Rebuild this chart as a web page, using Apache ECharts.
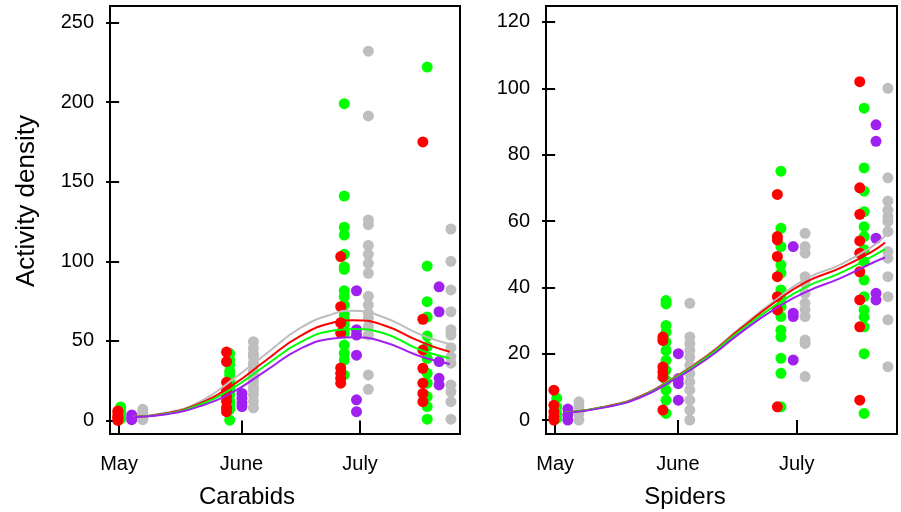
<!DOCTYPE html>
<html>
<head>
<meta charset="utf-8">
<script src="https://cdn.jsdelivr.net/npm/echarts@6/dist/echarts.min.js"></script>
<style>
html,body{margin:0;padding:0;background:#fff;}
#c{width:901px;height:512px;}
</style>
</head>
<body>
<div id="c"></div>
<script>
// ---- tick labels ----
const monthTickDays = [0, 31, 61];
const monthLabels = ['May', 'June', 'July'];
const carabidsYTicks = [0, 50, 100, 150, 200, 250];
const spidersYTicks = [0, 20, 40, 60, 80, 100, 120];
const panelTitles = ['Carabids', 'Spiders'];
const yTitle = 'Activity density';

// ---- sampling day (days since 1 May) per group, per visit ----
const redDays    = [-0.3, 27.2, 56.1, 76.9];
const greenDays  = [0.4, 28.0, 57.0, 78.0];
const purpleDays = [3.2, 31.1, 60.1, 81.0];
const grayDays   = [6.0, 34.0, 63.1, 84.0];

// ---- Carabids observations (per visit) ----
const carabidsRed = [
  [6, 5, 3, 2, 1, 0],
  [43, 37, 24, 19, 15, 12, 8, 5.5],
  [103, 71.5, 61.4, 55, 33, 29.6, 26.5, 23.4],
  [175, 63.6, 44.3, 32.8, 23.4, 17, 11.8]
];
const carabidsGreen = [
  [8.5, 6, 4, 1],
  [42, 38, 35, 31, 28.6, 24, 22, 19, 16, 12, 9.8, 7, 0.3],
  [199, 141, 121.4, 116.5, 104.4, 96.6, 95, 81.5, 77.8, 72.5, 66.3, 63, 60, 55, 47.4, 42.2, 38, 28.6],
  [222, 97, 74.6, 65, 53, 46.4, 39, 29.6, 23.4, 15, 8.7, 0.8]
];
const carabidsPurple = [
  [3.5, 2, 0.5],
  [17, 14, 11, 8.7],
  [81.5, 57, 53.7, 41, 13, 5.5],
  [84, 68.3, 37, 26.5, 22.3]
];
const carabidsGray = [
  [7, 5, 3, 2, 0.5],
  [49.5, 45.4, 42, 40, 36, 35, 31, 28, 26.5, 24, 21, 19, 16, 12, 8],
  [232, 191.3, 126, 123, 110, 104.4, 98.7, 92.5, 78, 72.5, 67.3, 64.2, 59, 53.7, 28.6, 19.6],
  [120.3, 100, 82, 68.3, 57, 53.7, 45.7, 40, 36, 22.3, 18, 11.8, 0.8]
];

// ---- Spiders observations (per visit) ----
const spidersRed = [
  [9, 4.5, 2.5, 1, 0],
  [25, 24, 16, 14.5, 13, 3],
  [68, 55.3, 54.3, 49.3, 43.2, 37.2, 33.2, 4],
  [102, 70, 62, 54, 50.3, 44.7, 36.2, 28.1, 6]
];
const spidersGreen = [
  [6.6, 4, 2, 0.5],
  [36, 35, 28.5, 26.5, 23.5, 21, 18, 15, 12, 9, 6, 2],
  [75, 57.8, 52.3, 46.8, 44.3, 39.2, 36.7, 34.2, 31.2, 27.1, 25.1, 18.6, 14.1, 4],
  [94, 76, 69, 62.8, 58.3, 55.3, 51.3, 47.8, 42.2, 37.2, 33.2, 31, 28.1, 20, 2]
];
const spidersPurple = [
  [3.3, 1.5, 0],
  [20, 12.5, 11, 6],
  [52.3, 32.2, 31.2, 18.1],
  [89, 84, 54.8, 38.2, 36.2]
];
const spidersGray = [
  [5.5, 4, 2, 0],
  [35.2, 25, 23, 21, 19, 16.5, 14, 11.5, 9, 6, 3, 0],
  [56.3, 52.3, 50.3, 43.2, 41.2, 38.2, 35.2, 33.2, 31.2, 24.1, 23.1, 13.1],
  [100, 73, 66, 63.3, 61.3, 59.8, 56.8, 50.8, 48.8, 43.2, 37.2, 30.2, 16.1]
];

// ---- fitted curves ----
const carabidsCurveDays = [3.6, 12.1, 20.5, 28.9, 37.3, 45.8, 54.2, 59.2, 66.8, 75.3, 79.5, 83.7];
const carabidsCurveGray   = [2.4, 5.0, 11.8, 26, 42, 58, 67, 69, 65, 55, 51, 48];
const carabidsCurveRed    = [2.3, 4.5, 10.8, 22.5, 38, 53, 61.5, 63, 60, 50.6, 46.4, 43.2];
const carabidsCurveGreen  = [2.2, 4.2, 10.0, 20.5, 35, 49, 56.5, 57.5, 55, 45.3, 41.8, 39.1];
const carabidsCurvePurple = [2.1, 3.9, 9.0, 18, 31.5, 45, 51.5, 52.3, 49.5, 41.1, 38, 35.5];

const spidersCurveDays = [2.5, 13, 21.5, 29.9, 38.3, 46.7, 55.1, 63.5, 71.9, 80.3, 83.3];
const spidersCurveGray   = [2.2, 4.2, 7.2, 12.8, 19.5, 27.8, 35.7, 42.7, 46.8, 52.5, 55.5];
const spidersCurveRed    = [2.2, 4.1, 7.1, 12.6, 19.2, 27.4, 35.2, 41.7, 45.8, 51, 53.5];
const spidersCurveGreen  = [2.2, 4.0, 7.0, 12.4, 18.9, 26.9, 34.2, 40.2, 44.3, 49.5, 51.5];
const spidersCurvePurple = [2.1, 3.9, 6.8, 12.1, 18.4, 26.2, 33.2, 38.7, 42.7, 47.5, 49];

// ---- build ----
const COLORS = {red: '#FF0000', green: '#00FF00', purple: '#A020F0', gray: '#BEBEBE'};
const FONT = '"Liberation Sans", Arial, Helvetica, sans-serif';

function pts(days, groups) {
  const out = [];
  groups.forEach((vals, i) => vals.forEach(v => out.push([days[i], v])));
  return out;
}
function zip(xs, ys) { return xs.map((x, i) => [x, ys[i]]); }

const panels = [
  {obs: {gray: carabidsGray, purple: carabidsPurple, green: carabidsGreen, red: carabidsRed},
   curveDays: carabidsCurveDays,
   curves: {gray: carabidsCurveGray, red: carabidsCurveRed, green: carabidsCurveGreen, purple: carabidsCurvePurple}},
  {obs: {gray: spidersGray, purple: spidersPurple, green: spidersGreen, red: spidersRed},
   curveDays: spidersCurveDays,
   curves: {gray: spidersCurveGray, red: spidersCurveRed, green: spidersCurveGreen, purple: spidersCurvePurple}}
];
const dayMap = {red: redDays, green: greenDays, purple: purpleDays, gray: grayDays};

const series = [];
panels.forEach((p, pi) => {
  ['gray', 'purple', 'green', 'red'].forEach((g, k) => {
    series.push({
      type: 'scatter', xAxisIndex: pi, yAxisIndex: pi,
      data: pts(dayMap[g], p.obs[g]), symbol: 'circle', symbolSize: 11,
      itemStyle: {color: COLORS[g], opacity: 1}, z: 2 + k, silent: true
    });
  });
  ['gray', 'red', 'green', 'purple'].forEach((g, k) => {
    series.push({
      type: 'line', xAxisIndex: pi, yAxisIndex: pi,
      data: zip(p.curveDays, p.curves[g]), smooth: 0.5, showSymbol: false,
      lineStyle: {color: COLORS[g], width: 2}, z: 10 + k, silent: true
    });
  });
});

function xAxis(gi) {
  return {
    type: 'value', gridIndex: gi, min: -2.3, max: 86.3,
    splitLine: {show: false}, axisLine: {show: false},
    axisTick: {show: true, inside: false, length: 13, customValues: monthTickDays,
               lineStyle: {color: '#000', width: 2}},
    axisLabel: {customValues: monthTickDays, margin: 20, color: '#000',
                fontSize: 20, fontFamily: FONT,
                formatter: v => monthLabels[monthTickDays.indexOf(v)] || ''}
  };
}
function yAxis(gi, min, max, ticks) {
  return {
    type: 'value', gridIndex: gi, min: min, max: max,
    splitLine: {show: false}, axisLine: {show: false},
    axisTick: {show: true, inside: false, length: 13, customValues: ticks,
               lineStyle: {color: '#000', width: 2}},
    axisLabel: {customValues: ticks, margin: 16, color: '#000',
                fontSize: 20, fontFamily: FONT}
  };
}

const chart = echarts.init(document.getElementById('c'), null, {renderer: 'canvas'});
chart.setOption({
  animation: false,
  backgroundColor: '#fff',
  grid: [
    {left: 110, top: 6, width: 350, height: 428, show: true, borderColor: '#000', borderWidth: 2, backgroundColor: 'transparent'},
    {left: 546, top: 6, width: 351, height: 428, show: true, borderColor: '#000', borderWidth: 2, backgroundColor: 'transparent'}
  ],
  xAxis: [xAxis(0), xAxis(1)],
  yAxis: [yAxis(0, -8.5, 260.4, carabidsYTicks), yAxis(1, -4.2, 124.8, spidersYTicks)],
  series: series,
  graphic: [
    {type: 'text', x: 247, y: 497, silent: true,
     style: {text: panelTitles[0], font: '24px ' + FONT, fill: '#000', textAlign: 'center', textVerticalAlign: 'middle'}},
    {type: 'text', x: 685, y: 497, silent: true,
     style: {text: panelTitles[1], font: '24px ' + FONT, fill: '#000', textAlign: 'center', textVerticalAlign: 'middle'}},
    {type: 'text', x: 27, y: 201, rotation: Math.PI / 2, silent: true,
     style: {text: yTitle, font: '26px ' + FONT, fill: '#000', textAlign: 'center', textVerticalAlign: 'middle'}}
  ]
});
</script>
</body>
</html>
